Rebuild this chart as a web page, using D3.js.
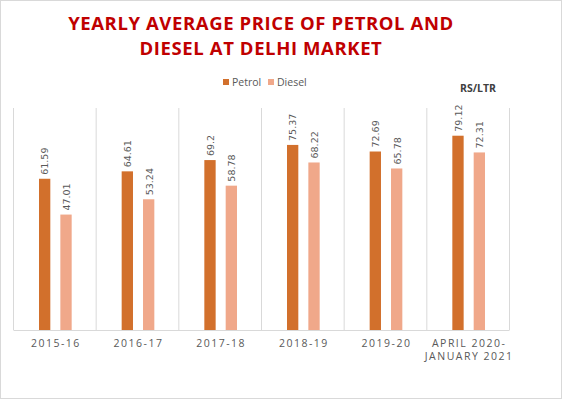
<!DOCTYPE html>
<html><head><meta charset="utf-8">
<script src="https://cdn.jsdelivr.net/npm/d3@7"></script>
<style>
html,body{margin:0;padding:0;background:#fff;}
svg{display:block;}
</style></head>
<body>
<svg id="c" width="562" height="399"></svg>
<script>
const categories = ["2015-16","2016-17","2017-18","2018-19","2019-20","APRIL 2020-|JANUARY 2021"];
const petrol = [61.59, 64.61, 69.2, 75.37, 72.69, 79.12];
const diesel = [47.01, 53.24, 58.78, 68.22, 65.78, 72.31];
const seriesNames = ["Petrol","Diesel"];
const colors = ["#D2702C","#F0A88A"];
const titleLines = ["YEARLY AVERAGE PRICE OF PETROL AND","DIESEL AT DELHI MARKET"];
const unitLabel = "RS/LTR";

(function(){
const svg = d3.select("#c");
const W = 562, H = 399;
svg.append("rect").attr("x",0.5).attr("y",0.5).attr("width",W-1).attr("height",H-1)
  .attr("fill","#fff").attr("stroke","#d9d9d9");

const pl = 13.5, pr = 509.5, pt = 109, pb = 330;
const x = d3.scaleBand().domain(categories).range([pl,pr]).paddingInner(0).paddingOuter(0);
const sub = d3.scaleBand().domain(seriesNames).range([25.5, x.bandwidth()-24.5]).paddingInner(0.47);
const y = d3.scaleLinear().domain([0,90]).range([pb,pt]);

// title
const t = svg.append("text").attr("text-anchor","middle").attr("fill","#C00000")
  .attr("font-family","'Open Sans', sans-serif").attr("font-weight","bold")
  .attr("font-size",18.5).attr("letter-spacing",0.6);
titleLines.forEach((l,i)=>t.append("tspan").attr("x",261).attr("y",30+i*25).text(l));

// legend
const lg = svg.append("g").attr("font-family","'Open Sans', sans-serif").attr("font-size",10.5).attr("fill","#595959");
const legX = [223, 268];
seriesNames.forEach((s,i)=>{
  lg.append("rect").attr("x",legX[i]).attr("y",79).attr("width",6).attr("height",6).attr("fill",colors[i]);
  lg.append("text").attr("x",legX[i]+9).attr("y",86).text(s);
});
svg.append("text").attr("x",478).attr("y",92).attr("text-anchor","middle")
  .attr("font-family","'Open Sans', sans-serif").attr("font-weight","bold").attr("font-size",10.5)
  .attr("fill","#404040").text(unitLabel);

// dividers
const divs = categories.map(c=>x(c)).concat([pr]);
svg.append("g").selectAll("line").data(divs).join("line")
  .attr("x1",d=>d).attr("x2",d=>d).attr("y1",pt-1).attr("y2",pb)
  .attr("stroke","#d9d9d9").attr("stroke-width",1);
svg.append("line").attr("x1",pl).attr("x2",pr).attr("y1",pb+0.5).attr("y2",pb+0.5)
  .attr("stroke","#d9d9d9");

// bars
const data = [petrol, diesel];
data.forEach((vals,si)=>{
  const g = svg.append("g");
  g.selectAll("rect").data(vals).join("rect")
    .attr("x",(d,i)=>x(categories[i])+sub(seriesNames[si]))
    .attr("width",sub.bandwidth())
    .attr("y",d=>y(d)).attr("height",d=>pb-y(d))
    .attr("fill",colors[si]);
  g.selectAll("text").data(vals).join("text")
    .attr("transform",(d,i)=>{
      const cx = x(categories[i])+sub(seriesNames[si])+sub.bandwidth()/2+0.5;
      return `translate(${cx},${y(d)-4}) rotate(-90)`;
    })
    .attr("dy","0.35em")
    .attr("font-family","'DejaVu Sans', sans-serif").attr("font-size",9.5)
    .attr("fill","#595959").text(d=>d);
});

// x labels
const xl = svg.append("g").attr("font-family","'Open Sans', sans-serif").attr("font-size",10.5)
  .attr("fill","#595959").attr("letter-spacing",1.5).attr("text-anchor","middle");
categories.forEach(c=>{
  const lines = c.split("|");
  const txt = xl.append("text");
  lines.forEach((l,i)=>txt.append("tspan").attr("x",x(c)+x.bandwidth()/2+1).attr("y",347+i*12.5).text(l));
});
})();
</script>
</body></html>
